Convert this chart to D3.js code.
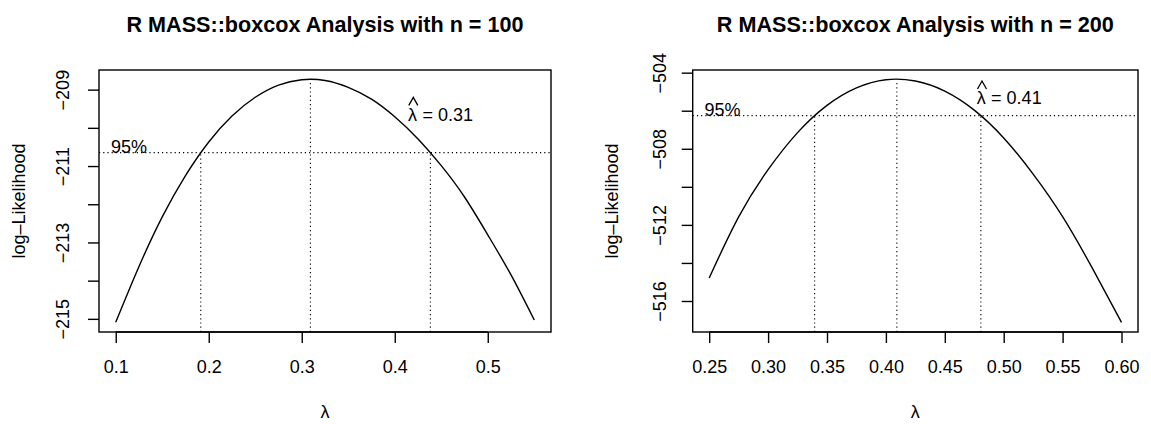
<!DOCTYPE html>
<html>
<head>
<meta charset="utf-8">
<script src="https://cdn.jsdelivr.net/npm/d3@7"></script>
<style>
    body { margin: 0; background: #fff; }
    text { font-family: "Liberation Sans", Arial, Helvetica, sans-serif; fill: #000; }
</style>
<script>
    // values
    const lambda100 = [0.100, 0.125, 0.150, 0.175, 0.200, 0.225, 0.250, 0.275, 0.300, 0.325,
                       0.350, 0.375, 0.400, 0.425, 0.450, 0.475, 0.500, 0.525, 0.550];
    const loglik100 = [-215.09, -213.63, -212.33, -211.25, -210.37, -209.69, -209.20, -208.88, -208.74, -208.76,
                       -208.94, -209.25, -209.71, -210.29, -210.99, -211.81, -212.80, -213.85, -215.03];
    const lambda200 = [0.250, 0.275, 0.300, 0.325, 0.350, 0.375, 0.400, 0.425,
                       0.450, 0.475, 0.500, 0.525, 0.550, 0.575, 0.600];
    const loglik200 = [-514.79, -511.58, -509.10, -507.15, -505.72, -504.80, -504.37, -504.44,
                       -504.97, -505.97, -507.43, -509.33, -511.57, -514.25, -517.12];

    const xTicks100 = [0.1, 0.2, 0.3, 0.4, 0.5];
    const xTicks200 = [0.25, 0.30, 0.35, 0.40, 0.45, 0.50, 0.55, 0.60];
    const yTicks100 = [-215, -214, -213, -212, -211, -210, -209];
    const yLabels100 = [-215, -213, -211, -209];
    const yTicks200 = [-516, -514, -512, -510, -508, -506, -504];
    const yLabels200 = [-516, -512, -508, -504];

    // lambda hat, 95% interval ends and the 95% cut
    const hat100 = 0.3093, ci100 = [0.1914, 0.4383], lim100 = -210.65;
    const hat200 = 0.4093, ci200 = [0.3395, 0.4806], lim200 = -506.26;

    function pad4(ext) {
        let d = (ext[1] - ext[0]) * 0.04;
        return [ext[0] - d, ext[1] + d];
    }

    function drawPanel(svg, p) {
        let x = d3.scaleLinear().domain(pad4(d3.extent(p.lambda))).range([p.left, p.right]);
        let y = d3.scaleLinear().domain(pad4(d3.extent(p.loglik.concat([p.lim])))).range([p.bottom, p.top]);
        let g = svg.append("g");

        // title
        g.append("text")
            .attr("x", (p.left + p.right) / 2)
            .attr("y", 31.5)
            .attr("text-anchor", "middle")
            .style("font-size", "21.6px")
            .style("font-weight", "bold")
            .text(p.title);

        // x axis
        let xa = g.append("g")
            .attr("transform", "translate(0," + p.bottom + ")")
            .call(d3.axisBottom(x).tickValues(p.xTicks).tickSize(11).tickPadding(17.5).tickFormat(p.xFmt));
        xa.select(".domain").remove();
        xa.selectAll("line").attr("stroke", "#000").attr("stroke-width", 1.4);
        xa.selectAll("text").style("font-size", "18px").attr("fill", "#000");
        xa.append("line")
            .attr("x1", x(p.xTicks[0])).attr("x2", x(p.xTicks[p.xTicks.length - 1]))
            .attr("stroke", "#000").attr("stroke-width", 1.4);

        // y axis
        let ya = g.append("g")
            .attr("transform", "translate(" + p.left + ",0)")
            .call(d3.axisLeft(y).tickValues(p.yTicks).tickSize(11).tickFormat(""));
        ya.select(".domain").remove();
        ya.selectAll("line").attr("stroke", "#000").attr("stroke-width", 1.4);
        ya.selectAll(".tick")
            .filter(d => p.yLabels.includes(d))
            .append("text")
                .attr("transform", "translate(" + (-p.ylabOff) + ",0) rotate(-90)")
                .attr("text-anchor", "middle")
                .attr("fill", "#000")
                .style("font-size", "18px")
                .text(d => d3.format("d")(d));

        // axis titles
        g.append("text")
            .attr("x", (p.left + p.right) / 2)
            .attr("y", 418)
            .attr("text-anchor", "middle")
            .style("font-size", "18px")
            .text("λ");
        g.append("text")
            .attr("transform", "translate(" + (p.left - 74.5) + "," + (p.top + p.bottom) / 2 + ") rotate(-90)")
            .attr("text-anchor", "middle")
            .style("font-size", "18px")
            .text("log\u2013Likelihood");

        // curve
        let line = d3.line()
            .x((d, i) => x(p.lambda[i]))
            .y(d => y(d))
            .curve(d3.curveNatural);
        g.append("path")
            .attr("d", line(p.loglik))
            .attr("fill", "none")
            .attr("stroke", "#000")
            .attr("stroke-width", 1.4);

        // dotted guides
        let dots = g.append("g")
            .attr("stroke", "#000")
            .attr("stroke-width", 1.1)
            .attr("stroke-dasharray", "1.2,3");
        dots.append("line")
            .attr("x1", p.left).attr("x2", p.right)
            .attr("y1", y(p.lim)).attr("y2", y(p.lim));
        dots.selectAll(".ci")
            .data(p.ci)
            .join("line")
                .attr("x1", d => x(d)).attr("x2", d => x(d))
                .attr("y1", p.bottom).attr("y2", y(p.lim));
        dots.append("line")
            .attr("x1", x(p.hat)).attr("x2", x(p.hat))
            .attr("y1", p.bottom).attr("y2", y(d3.max(p.loglik)));

        g.append("text")
            .attr("x", x(p.lambda[0]) + 13.3)
            .attr("y", y(p.lim))
            .attr("text-anchor", "middle")
            .style("font-size", "18px")
            .text("95%");

        // lambda hat label, the hat drawn as a stroke like plotmath does
        let h = g.append("g").style("font-size", "18px");
        h.append("text").attr("x", p.hatX).attr("y", p.hatY).text("λ");
        h.append("path")
            .attr("d", d3.line()([[p.hatX + 0.8, p.hatY - 15.3], [p.hatX + 5.3, p.hatY - 23.3], [p.hatX + 9.8, p.hatY - 15.3]]))
            .attr("fill", "none")
            .attr("stroke", "#000")
            .attr("stroke-width", 1.3);
        h.append("text").attr("x", p.hatX + 14.4).attr("y", p.hatY).text(p.hatText);

        // frame
        g.append("rect")
            .attr("x", p.left).attr("y", p.top)
            .attr("width", p.right - p.left).attr("height", p.bottom - p.top)
            .attr("fill", "none")
            .attr("stroke", "#000")
            .attr("stroke-width", 1.4);
    }

    function draw() {
        let svg = d3.select("body").append("svg")
            .attr("width", 1151)
            .attr("height", 424);

        drawPanel(svg, {
            title: "R MASS::boxcox Analysis with n = 100",
            lambda: lambda100, loglik: loglik100,
            xTicks: xTicks100, xFmt: d3.format(".1f"),
            yTicks: yTicks100, yLabels: yLabels100,
            hat: hat100, ci: ci100, lim: lim100, hatText: "= 0.31",
            left: 99, right: 551, top: 70, bottom: 332, ylabOff: 30,
            hatX: 408, hatY: 120.7
        });
        drawPanel(svg, {
            title: "R MASS::boxcox Analysis with n = 200",
            lambda: lambda200, loglik: loglik200,
            xTicks: xTicks200, xFmt: d3.format(".2f"),
            yTicks: yTicks200, yLabels: yLabels200,
            hat: hat200, ci: ci200, lim: lim200, hatText: "= 0.41",
            left: 692.7, right: 1138, top: 70, bottom: 332, ylabOff: 27,
            hatX: 976.7, hatY: 104.3
        });
    }
</script>
</head>
<body>
<script>
    draw();
</script>
</body>
</html>
